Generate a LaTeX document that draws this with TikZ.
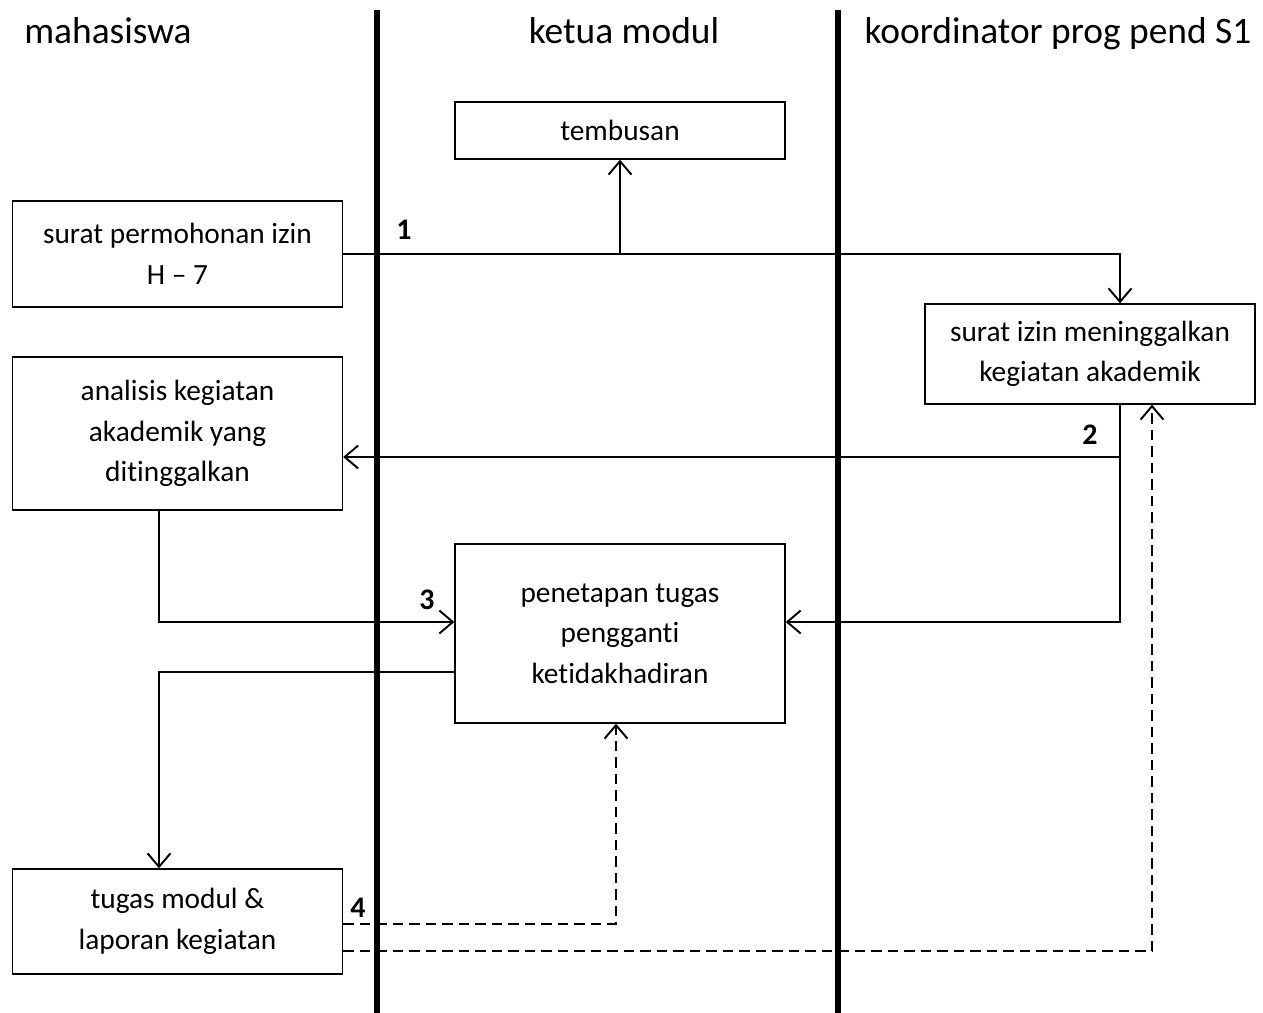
\documentclass[tikz,border=0pt]{standalone}
\usepackage{fontspec}
\setmainfont{Carlito}[Ligatures = NoCommon]
\usetikzlibrary{arrows.meta}

\begin{document}
\begin{tikzpicture}[x = 0.02cm, y = -0.02cm,
            box/.style = {draw, line width = 0.8pt, minimum width = 6.6cm, align = center, font = \fontsize{16.7}{23}\selectfont},
            flow/.style = {line width = 1.1pt, -{Straight Barb[length = 0.27cm, width = 0.46cm, line width = 1.1pt]}},
            back/.style = {flow, dash pattern = on 0.21cm off 0.12cm},
            lane/.style = {line width = 3.2pt},
            head/.style = {anchor = base, font = \fontsize{21.3}{25}\selectfont},
            num/.style = {font = \fontsize{17}{20}\selectfont\bfseries}]
            \useasboundingbox (0, 0) rectangle (1263, 1013);
            
            \draw[lane](377, 10) -- (377, 1013);
            \draw[lane](838, 10) -- (838, 1013);
            
            \node[head] (head_mhs) at (108, 44) {mahasiswa};
            \node[head] (head_ketua) at (624, 44) {ketua modul};
            \node[head] (head_koord) at (1058, 44) {koordinator prog pend S1};
            
            \node[box, minimum height = 1.14cm] (tembusan) at (620, 130.5) {tembusan};
            \node[box, minimum height = 2.12cm] (permohonan) at (177.5, 254) {surat permohonan izin\\H -- 7};
            \node[box, minimum height = 2cm] (izin) at (1090, 354) {surat izin meninggalkan\\kegiatan akademik};
            \node[box, minimum height = 3.06cm] (analisis) at (177.5, 433.5) {analisis kegiatan\\akademik yang\\ditinggalkan};
            \node[box, minimum height = 3.58cm] (penetapan) at (620, 633.5) {penetapan tugas\\pengganti\\ketidakhadiran};
            \node[box, minimum height = 2.1cm] (tugas) at (177.5, 921.5) {tugas modul \&\\laporan kegiatan};
            
            \draw[flow](permohonan.east) -| ([xshift = 0.6cm]izin.north);
            \draw[flow](tembusan.south |- permohonan.east) -- (tembusan.south);
            \node[num] (n1) at (404, 230) {1};
            
            \draw[flow]([xshift = 0.6cm]izin.south) |- ([yshift = -0.47cm]analisis.east);
            \draw[flow]([xshift = 0.6cm]izin.south) |- ([yshift = 0.23cm]penetapan.east);
            \node[num] (n2) at (1090, 435) {2};
            
            \draw[flow]([xshift = -0.37cm]analisis.south) |- ([yshift = 0.23cm]penetapan.west);
            \node[num] (n3) at (427, 600) {3};
            \draw[flow]([yshift = -0.77cm]penetapan.west) -| ([xshift = -0.37cm]tugas.north);
            
            \draw[back]([yshift = -0.05cm]tugas.east) -| ([xshift = -0.08cm]penetapan.south);
            \draw[back]([yshift = -0.59cm]tugas.east) -| ([xshift = 1.24cm]izin.south);
            \node[num] (n4) at (358, 908) {4};
\end{tikzpicture}
\end{document}
